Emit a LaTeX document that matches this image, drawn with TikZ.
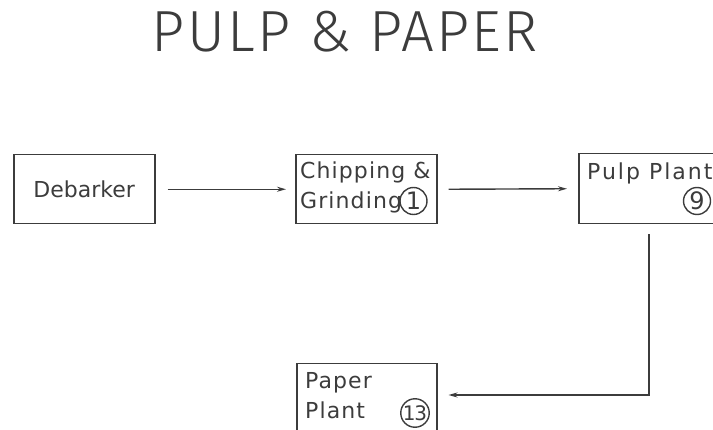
\documentclass[tikz,border=0pt]{standalone}
\usepackage{fontspec}
\setmainfont{DejaVu Sans}[LetterSpace=5]
\newfontfamily\titlefont{Fira Sans Light}[LetterSpace=4]
\usetikzlibrary{arrows.meta}
\definecolor{ink}{HTML}{3C3C3C}
\begin{document}
\begin{tikzpicture}[x=1pt,y=-1pt,
  boxst/.style={draw=ink, line width=1.5pt, rectangle, inner sep=0pt, anchor=north west},
  lbl/.style={text=ink, font=\fontsize{22}{28}\selectfont, inner sep=0pt, anchor=base west},
  flow/.style={draw=ink, line width=1.4pt, -{Stealth[length=9pt,width=5pt]}},
  num/.style={circle, draw=ink, line width=1.4pt, inner sep=0pt, minimum size=27pt, text=ink}]
\useasboundingbox (0,0) rectangle (713,430);
\node[text=ink, font=\titlefont\fontsize{58}{60}\selectfont, inner sep=0pt, anchor=base] (title) at (345,52) {PULP \& PAPER};
\node[boxst, minimum width=141pt, minimum height=69pt] (deb) at (13,154) {};
\node[lbl, anchor=center, font=\fontsize{22}{28}\selectfont\addfontfeatures{LetterSpace=0}] (debt) at (deb.center) {Debarker};
\node[boxst, minimum width=141pt, minimum height=69pt] (chip) at (295,154) {};
\node[lbl] (chipa) at (300,179) {Chipping \&};
\node[lbl] (chipb) at (300,209) {Grinding};
\node[num, font=\fontsize{24}{24}\selectfont\addfontfeatures{LetterSpace=0}] (n1) at (413.5,201) {1};
\node[boxst, minimum width=150pt, minimum height=70pt] (pulp) at (578,153) {};
\node[lbl, font=\fontsize{22}{28}\selectfont\addfontfeatures{LetterSpace=9}] (pulpa) at (587,180) {Pulp Plant};
\node[num, font=\fontsize{24}{24}\selectfont\addfontfeatures{LetterSpace=0}] (n9) at (697,201) {9};
\node[boxst, minimum width=140pt, minimum height=80pt] (paper) at (296,363) {};
\node[lbl] (papa) at (305,389) {Paper};
\node[lbl] (papb) at (305,419) {Plant};
\node[num, font=\fontsize{20}{20}\selectfont\addfontfeatures{LetterSpace=-6}] (n13) at (415,413) {13};
\coordinate (corner) at (649,395);
\draw[flow] ([xshift=12pt]deb.east) -- ([xshift=-9pt]chip.west);
\draw[flow] ([xshift=11pt]chip.east) -- ([xshift=-11pt]pulp.west);
\draw[flow] ([yshift=-10pt]pulp.south -| corner) -- (corner) -- ([xshift=11pt]paper.east |- corner);
\end{tikzpicture}
\end{document}
